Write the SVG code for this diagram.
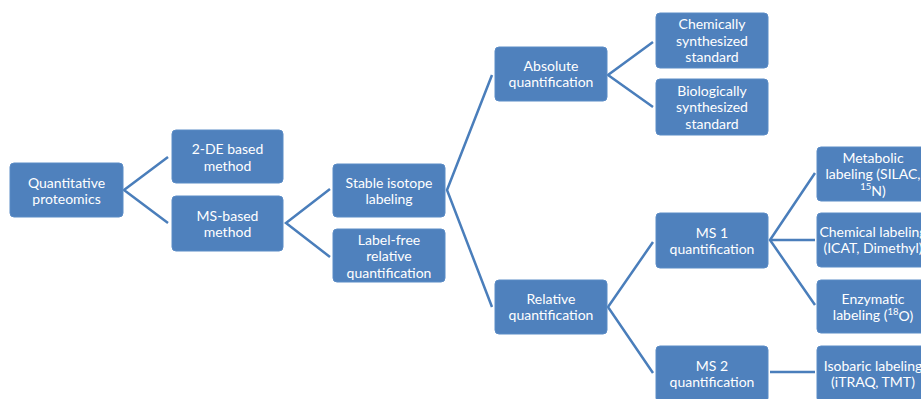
<svg xmlns="http://www.w3.org/2000/svg" width="921" height="399" viewBox="0 0 921 399">
<style>
.box{fill:#4F81BD;stroke:#5B8CC6;stroke-width:1}
.t{font-family:Lato,"Open Sans","Liberation Sans",sans-serif;font-size:14px;fill:#FFFFFF;text-anchor:middle;dominant-baseline:central}
.c{fill:none;stroke:#4A7EBB;stroke-width:2.5;stroke-linejoin:miter}
.sup{font-size:9.5px}
</style>
<rect width="921" height="399" fill="#FFFFFF"/>
<g id="connectors">
<polyline class="c" points="168,157 124,190 168,223"/>
<polyline class="c" points="330,189 286,223 330,257"/>
<polyline class="c" points="492,75 447,190 492,307"/>
<polyline class="c" points="653,42 608,75 653,107"/>
<polyline class="c" points="653,242 608,307 653,373"/>
<polyline class="c" points="815,173 770,240 815,305"/>
<line class="c" x1="770" y1="240" x2="815" y2="240"/>
<line class="c" x1="770" y1="372" x2="815" y2="372"/>
</g>
<g id="n-quant"><rect class="box" x="10" y="163" width="113" height="54" rx="4"/>
<text class="t" x="66.5" y="182">Quantitative</text><text class="t" x="66.5" y="198.5">proteomics</text></g>
<g id="n-2de"><rect class="box" x="172" y="130" width="111" height="53" rx="4"/>
<text class="t" x="227.5" y="148.5">2-DE based</text><text class="t" x="227.5" y="165">method</text></g>
<g id="n-ms"><rect class="box" x="172" y="196" width="111" height="55" rx="4"/>
<text class="t" x="227.5" y="215">MS-based</text><text class="t" x="227.5" y="231.5">method</text></g>
<g id="n-stable"><rect class="box" x="333" y="164" width="112" height="53" rx="4"/>
<text class="t" x="389" y="182">Stable isotope</text><text class="t" x="389" y="198.5">labeling</text></g>
<g id="n-labelfree"><rect class="box" x="333" y="229" width="112" height="53" rx="4"/>
<text class="t" x="389" y="239">Label-free</text><text class="t" x="389" y="255.5">relative</text><text class="t" x="389" y="272">quantification</text></g>
<g id="n-absolute"><rect class="box" x="495" y="47" width="112" height="54" rx="4"/>
<text class="t" x="551" y="65">Absolute</text><text class="t" x="551" y="81.5">quantification</text></g>
<g id="n-relative"><rect class="box" x="495" y="280" width="112" height="54" rx="4"/>
<text class="t" x="551" y="298">Relative</text><text class="t" x="551" y="314.5">quantification</text></g>
<g id="n-chem"><rect class="box" x="656" y="13" width="112" height="55" rx="4"/>
<text class="t" x="712" y="23.5">Chemically</text><text class="t" x="712" y="40">synthesized</text><text class="t" x="712" y="56.5">standard</text></g>
<g id="n-bio"><rect class="box" x="656" y="79" width="112" height="56" rx="4"/>
<text class="t" x="712" y="90">Biologically</text><text class="t" x="712" y="106.5">synthesized</text><text class="t" x="712" y="123">standard</text></g>
<g id="n-ms1"><rect class="box" x="656" y="213" width="112" height="55" rx="4"/>
<text class="t" x="712" y="232">MS 1</text><text class="t" x="712" y="248.5">quantification</text></g>
<g id="n-ms2"><rect class="box" x="656" y="346" width="112" height="56" rx="4"/>
<text class="t" x="712" y="365">MS 2</text><text class="t" x="712" y="381.5">quantification</text></g>
<g id="n-metabolic"><rect class="box" x="817" y="147" width="112" height="54" rx="4"/>
<text class="t" x="873" y="157">Metabolic</text><text class="t" x="873" y="173.5">labeling (SILAC,</text><text class="t" x="873" y="190"><tspan class="sup" dy="-4">15</tspan><tspan dy="4">N)</tspan></text></g>
<g id="n-chemlab"><rect class="box" x="817" y="213" width="112" height="54" rx="4"/>
<text class="t" x="873" y="231">Chemical labeling</text><text class="t" x="873" y="247.5">(ICAT, Dimethyl)</text></g>
<g id="n-enzym"><rect class="box" x="817" y="280" width="112" height="53" rx="4"/>
<text class="t" x="873" y="298">Enzymatic</text><text class="t" x="873" y="314.5">labeling  (<tspan class="sup" dy="-4">18</tspan><tspan dy="4">O)</tspan></text></g>
<g id="n-isobaric"><rect class="box" x="817" y="346" width="112" height="56" rx="4"/>
<text class="t" x="873" y="365">Isobaric labeling</text><text class="t" x="873" y="381.5">(iTRAQ, TMT)</text></g>
</svg>
